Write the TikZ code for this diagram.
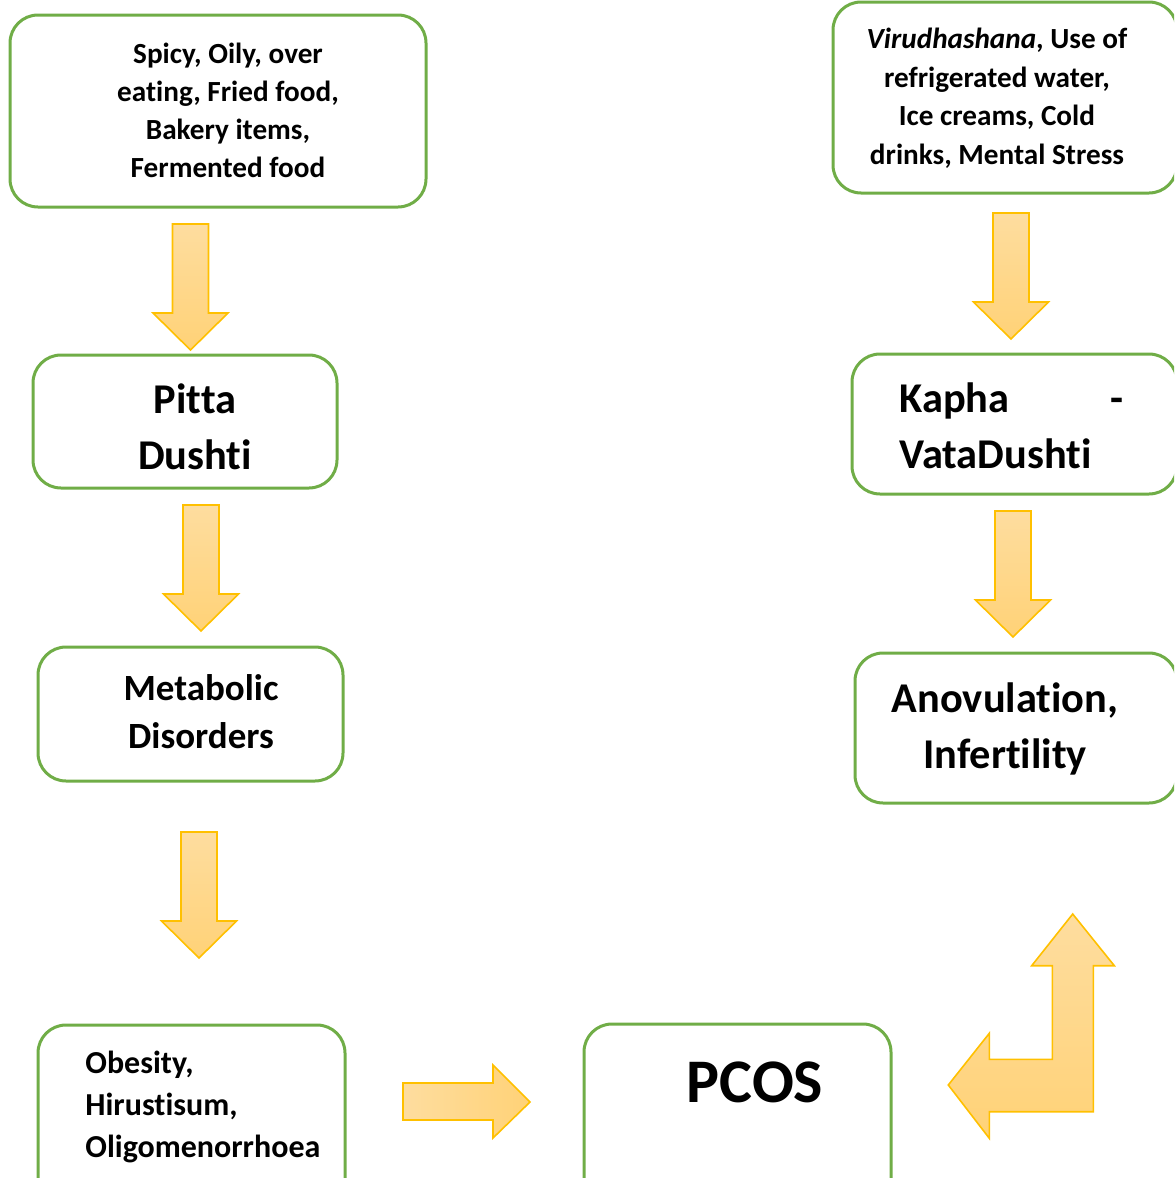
\documentclass[tikz,border=0pt]{standalone}
\usepackage{fontspec}
\setmainfont{Carlito}[RawFeature={-liga;-clig;-dlig}]
\usetikzlibrary{fit}
\definecolor{boxgreen}{HTML}{70AD47}
\definecolor{arrline}{HTML}{FFC000}
\definecolor{arrlight}{HTML}{FEDD9F}
\definecolor{arrdark}{HTML}{FFD277}
\tikzset{
  box/.style={draw=boxgreen, line width=1.5pt, rounded corners=14pt, inner sep=0pt},
  blockarr/.style={draw=arrline, line width=0.8pt, line join=miter},
  vshade/.style={top color=arrlight, bottom color=arrdark},
  hshade/.style={left color=arrlight, right color=arrdark},
  small/.style={font=\fontsize{14.6}{18}\selectfont\bfseries, inner sep=0pt, anchor=base},
  mid/.style={font=\fontsize{16}{20}\selectfont\bfseries, inner sep=0pt, anchor=base},
  medium/.style={font=\fontsize{18.5}{22}\selectfont\bfseries, inner sep=0pt, anchor=base},
  large/.style={font=\fontsize{21.2}{25}\selectfont\bfseries, inner sep=0pt, anchor=base},
  huge/.style={font=\fontsize{31}{36}\selectfont\bfseries, inner sep=0pt, anchor=base},
  pics/downarr/.style={code={
    \draw[blockarr, vshade] (-18,0) -- (18,0) -- (18,89) -- (37.5,89) -- (0,126)
      -- (-37.5,89) -- (-18,89) -- cycle;}}
}
\begin{document}
\begin{tikzpicture}[x=0.5pt, y=-0.5pt]
\useasboundingbox (0,0) rectangle (1174,1178);
\clip (0,0) rectangle (1174,1178);

% boxes
\node[box, fit={(10,15) (426,207)}] (causeP) {};
\node[box, fit={(33,355) (337,488)}] (pitta) {};
\node[box, fit={(38,647) (343,781)}] (metab) {};
\node[box, fit={(38,1025) (345,1215)}] (obes) {};
\node[box, fit={(584,1024) (891,1215)}] (pcos) {};
\node[box, fit={(833,2) (1177,193)}] (causeK) {};
\node[box, fit={(852,354) (1177,494)}] (kapha) {};
\node[box, fit={(855,653) (1177,803)}] (anov) {};

% texts
\node[small] (cp1) at (228,63) {Spicy, Oily, over};
\node[small] (cp2) at (228,101) {eating, Fried food,};
\node[small] (cp3) at (228,139) {Bakery items,};
\node[small] (cp4) at (228,177) {Fermented food};

\node[large] (pt1) at (195,413) {Pitta};
\node[large] (pt2) at (195,469) {Dushti};

\node[medium] (mt1) at (201,700) {Metabolic};
\node[medium] (mt2) at (201,748) {Disorders};

\node[mid, anchor=base west] (ob1) at (85,1073) {Obesity,};
\node[mid, anchor=base west] (ob2) at (85,1115) {Hirustisum,};
\node[mid, anchor=base west] (ob3) at (85,1157) {Oligomenorrhoea};

\node[huge] (pc1) at (755,1102) {PCOS};

\node[small] (ck1) at (997,48) {\textit{Virudhashana}, Use of};
\node[small] (ck2) at (997,87) {refrigerated water,};
\node[small] (ck3) at (997,125) {Ice creams, Cold};
\node[small] (ck4) at (997,164) {drinks, Mental Stress};

\node[large, anchor=base west] (kp1) at (899,412) {Kapha};
\node[large] (kp2) at (1117,412) {-};
\node[large, anchor=base west] (kp3) at (899,468) {VataDushti};

\node[large] (an1) at (1005,712) {Anovulation,};
\node[large] (an2) at (1005,768) {Infertility};

% block arrows
\pic at (190.5,224) {downarr};
\pic at (201,505) {downarr};
\pic at (199,832) {downarr};
\pic at (1011,213) {downarr};
\pic at (1013,511) {downarr};

\draw[blockarr, hshade] (403,1083) -- (493,1083) -- (493,1065) -- (530,1102)
  -- (493,1138) -- (493,1120) -- (403,1120) -- cycle;

\draw[blockarr, vshade] (1072.7,914) -- (1114.3,965.7) -- (1093.3,965.7)
  -- (1093.3,1111.7) -- (989.3,1111.7) -- (989.3,1138.3) -- (948.3,1085)
  -- (989.3,1033.3) -- (989.3,1059.3) -- (1052.3,1059.3) -- (1052.3,965.7)
  -- (1031.7,965.7) -- cycle;
\end{tikzpicture}
\end{document}
